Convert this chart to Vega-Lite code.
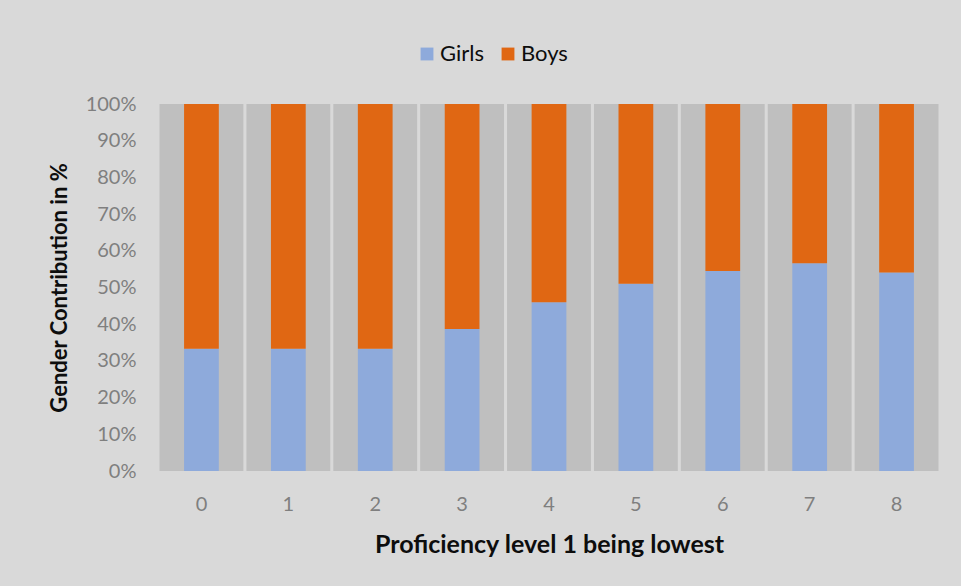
{
  "$schema": "https://vega.github.io/schema/vega-lite/v6.json",
  "width": 782,
  "height": 367,
  "autosize": {"type": "none"},
  "padding": {"left": 158, "top": 104, "right": 21, "bottom": 115},
  "background": "#d9d9d9",
  "data": {
    "values": [
      {"level": "0", "gender": "Girls", "pct": 33.3},
      {"level": "0", "gender": "Boys", "pct": 66.7},
      {"level": "1", "gender": "Girls", "pct": 33.3},
      {"level": "1", "gender": "Boys", "pct": 66.7},
      {"level": "2", "gender": "Girls", "pct": 33.3},
      {"level": "2", "gender": "Boys", "pct": 66.7},
      {"level": "3", "gender": "Girls", "pct": 38.7},
      {"level": "3", "gender": "Boys", "pct": 61.3},
      {"level": "4", "gender": "Girls", "pct": 46.0},
      {"level": "4", "gender": "Boys", "pct": 54.0},
      {"level": "5", "gender": "Girls", "pct": 51.0},
      {"level": "5", "gender": "Boys", "pct": 49.0},
      {"level": "6", "gender": "Girls", "pct": 54.5},
      {"level": "6", "gender": "Boys", "pct": 45.5},
      {"level": "7", "gender": "Girls", "pct": 56.6},
      {"level": "7", "gender": "Boys", "pct": 43.4},
      {"level": "8", "gender": "Girls", "pct": 54.1},
      {"level": "8", "gender": "Boys", "pct": 45.9}
    ]
  },
  "config": {
    "view": {"stroke": null},
    "font": "Lato",
    "axis": {"grid": false, "domain": false, "ticks": false, "labelOverlap": false}
  },
  "encoding": {
    "x": {
      "field": "level",
      "type": "ordinal",
      "scale": {"paddingInner": 0, "paddingOuter": 0},
      "axis": {
        "title": "Proficiency level 1 being lowest",
        "labelAngle": 0,
        "labelFontSize": 20,
        "labelColor": "#7f7f7f",
        "labelPadding": 23,
        "titleFontSize": 25,
        "titleFontWeight": "bold",
        "titleColor": "#0d0d0d",
        "titlePadding": 18
      }
    },
    "y": {
      "field": "pct",
      "type": "quantitative",
      "stack": "zero",
      "scale": {"domain": [0, 100], "nice": false},
      "axis": {
        "title": "Gender Contribution in %",
        "values": [0, 10, 20, 30, 40, 50, 60, 70, 80, 90, 100],
        "labelOverlap": false,
        "labelExpr": "datum.value + '%'",
        "labelFontSize": 20,
        "labelColor": "#7f7f7f",
        "labelPadding": 22,
        "titleFontSize": 22,
        "titleFontWeight": "bold",
        "titleColor": "#0d0d0d",
        "titlePadding": 14
      }
    }
  },
  "layer": [
    {
      "mark": {"type": "bar", "color": "#bfbfbf", "width": {"band": 0.965}},
      "encoding": {
        "y": {"aggregate": "sum", "field": "pct", "type": "quantitative"}
      }
    },
    {
      "mark": {"type": "bar", "width": {"band": 0.4}},
      "encoding": {
        "color": {
          "field": "gender",
          "type": "nominal",
          "scale": {"domain": ["Girls", "Boys"], "range": ["#8eaadb", "#e06713"]},
          "legend": {
            "title": null,
            "orient": "none",
            "legendX": 258,
            "legendY": -61,
            "padding": 0,
            "direction": "horizontal",
            "symbolType": "square",
            "symbolSize": 165,
            "symbolStrokeWidth": 0,
            "labelFontSize": 22,
            "labelColor": "#0d0d0d",
            "labelOffset": 2,
            "columnPadding": 13
          }
        },
        "order": {"field": "gender", "sort": "descending"}
      }
    }
  ]
}
